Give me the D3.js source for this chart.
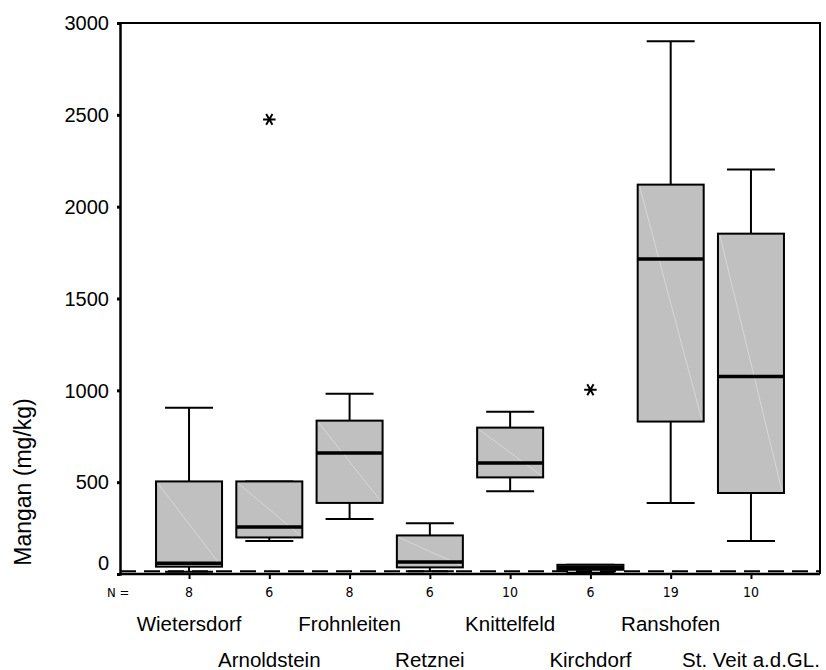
<!DOCTYPE html>
<html><head><meta charset="utf-8">
<script src="https://cdn.jsdelivr.net/npm/d3@7"></script>
<style>body{margin:0;background:#fff} svg{display:block}</style>
</head><body><svg id="chart" width="826" height="670"></svg>
<script>
const categories = ["Wietersdorf","Arnoldstein","Frohnleiten","Retznei","Knittelfeld","Kirchdorf","Ranshofen","St. Veit a.d.GL."];
const nValues = [8, 6, 8, 6, 10, 6, 19, 10];
const whiskerLow = [12, 180, 300, 15, 450, 7, 387, 180];
const q1 = [40, 199, 387, 36, 526, 23, 830, 441];
const median = [59, 256, 659, 66, 604, 36, 1715, 1075];
const q3 = [504, 504, 835, 210, 797, 50, 2120, 1853];
const whiskerHigh = [905, 504, 982, 276, 884, 50, 2900, 2203];
const outlierCats = ["Arnoldstein", "Kirchdorf"];
const outlierValues = [2475, 1003];
const yTicks = [0, 500, 1000, 1500, 2000, 2500, 3000];
const refValue = 15;

(function () {
const svg = d3.select("#chart");
const W = 826, H = 670;
const pLeft = 120, pRight = 820, pTop = 23, pBottom = 574;
const font = "'Liberation Sans', Arial, sans-serif";
const narrow = "'Liberation Sans Narrow', 'DejaVu Sans Condensed', 'Liberation Sans', sans-serif";

svg.append("rect").attr("width", W).attr("height", H).attr("fill", "#fff");

const x = d3.scalePoint().domain(categories).range([pLeft, pRight]).padding(0.86);
const y = d3.scaleLinear().domain([0, 3000]).range([pBottom, pTop]);

const boxW = 66, capW = 48;

const data = categories.map((c, i) => ({
  cat: c, n: nValues[i], lo: whiskerLow[i], q1: q1[i], med: median[i], q3: q3[i], hi: whiskerHigh[i], i
}));

// frame (top and right)
svg.append("path")
  .attr("d", `M${pLeft},${pTop}H${pRight}V${pBottom}`)
  .attr("fill", "none").attr("stroke", "#000").attr("stroke-width", 2);

// reference dashed line
svg.append("line")
  .attr("x1", pLeft).attr("x2", pRight)
  .attr("y1", y(refValue)).attr("y2", y(refValue))
  .attr("stroke", "#000").attr("stroke-width", 2).attr("stroke-dasharray", "16,8");

const g = svg.append("g");
const box = g.selectAll("g.box").data(data).join("g").attr("class", "box");

// whiskers
box.append("line")
  .attr("x1", d => x(d.cat)).attr("x2", d => x(d.cat))
  .attr("y1", d => y(d.hi)).attr("y2", d => y(d.q3))
  .attr("stroke", "#000").attr("stroke-width", 2);
box.append("line")
  .attr("x1", d => x(d.cat)).attr("x2", d => x(d.cat))
  .attr("y1", d => y(d.q1)).attr("y2", d => y(d.lo))
  .attr("stroke", "#000").attr("stroke-width", 2);
box.append("line")
  .attr("x1", d => x(d.cat) - capW / 2).attr("x2", d => x(d.cat) + capW / 2)
  .attr("y1", d => y(d.hi)).attr("y2", d => y(d.hi))
  .attr("stroke", "#000").attr("stroke-width", 2);
box.append("line")
  .attr("x1", d => x(d.cat) - capW / 2).attr("x2", d => x(d.cat) + capW / 2)
  .attr("y1", d => y(d.lo)).attr("y2", d => y(d.lo))
  .attr("stroke", "#000").attr("stroke-width", 2);

// boxes
box.append("rect")
  .attr("x", d => x(d.cat) - boxW / 2).attr("width", boxW)
  .attr("y", d => y(d.q3)).attr("height", d => y(d.q1) - y(d.q3))
  .attr("fill", "#c0c0c0").attr("stroke", "#000").attr("stroke-width", 2);
// faint diagonal artefact
box.append("line")
  .attr("x1", d => x(d.cat) - boxW / 2 + 2).attr("y1", d => y(d.q3) + 2)
  .attr("x2", d => x(d.cat) + boxW / 2 - 2).attr("y2", d => y(d.q1) - 2)
  .attr("stroke", "#dcdcdc").attr("stroke-width", 0.8);
// medians
box.append("line")
  .attr("x1", d => x(d.cat) - boxW / 2).attr("x2", d => x(d.cat) + boxW / 2)
  .attr("y1", d => y(d.med)).attr("y2", d => y(d.med))
  .attr("stroke", "#000").attr("stroke-width", 3.5);

// outliers
const star = d3.symbol(d3.symbolAsterisk, 110);
g.selectAll("path.out").data(outlierCats.map((c, i) => ({cat: c, v: outlierValues[i]})))
  .join("path").attr("class", "out")
  .attr("d", star)
  .attr("transform", d => `translate(${x(d.cat)},${y(d.v)}) rotate(90)`)
  .attr("fill", "none").attr("stroke", "#000").attr("stroke-width", 2);

// y axis
const yAxis = svg.append("g").attr("transform", `translate(${pLeft},0)`)
  .call(d3.axisLeft(y).tickValues(yTicks).tickSize(3).tickPadding(8).tickFormat(d3.format("d")));
yAxis.select(".domain").attr("stroke", "#000").attr("stroke-width", 2.5);
yAxis.selectAll(".tick line").attr("stroke", "#000").attr("stroke-width", 3);
yAxis.selectAll(".tick text").attr("font-family", font).attr("font-size", 20).attr("fill", "#000")
  .attr("dy", d => d === 0 ? "-0.22em" : "0.34em");

// x axis
const xAxis = svg.append("g").attr("transform", `translate(0,${pBottom})`)
  .call(d3.axisBottom(x).tickSize(5).tickFormat(""));
xAxis.select(".domain").attr("d", `M${pLeft},0H${pRight}`).attr("stroke", "#000").attr("stroke-width", 2.5);
xAxis.selectAll(".tick line").attr("stroke", "#000").attr("stroke-width", 2);

// N row
svg.append("text").attr("x", 107).attr("y", 597).text("N =")
  .attr("font-family", narrow).attr("font-size", 13).attr("fill", "#000");
svg.selectAll("text.n").data(data).join("text").attr("class", "n")
  .attr("x", d => x(d.cat)).attr("y", 597).attr("text-anchor", "middle")
  .attr("font-family", narrow).attr("font-size", 14).attr("fill", "#000")
  .text(d => d.n);

// category labels (staggered)
svg.selectAll("text.cat").data(data).join("text").attr("class", "cat")
  .attr("x", d => x(d.cat)).attr("y", d => d.i % 2 === 0 ? 631 : 667)
  .attr("text-anchor", "middle")
  .attr("font-family", font).attr("font-size", 20.5).attr("fill", "#000")
  .text(d => d.cat);

// y title
svg.append("text")
  .attr("transform", "translate(31,482) rotate(-90)")
  .attr("text-anchor", "middle")
  .attr("font-family", font).attr("font-size", 23).attr("fill", "#000")
  .text("Mangan (mg/kg)");
})();
</script>
</body></html>
